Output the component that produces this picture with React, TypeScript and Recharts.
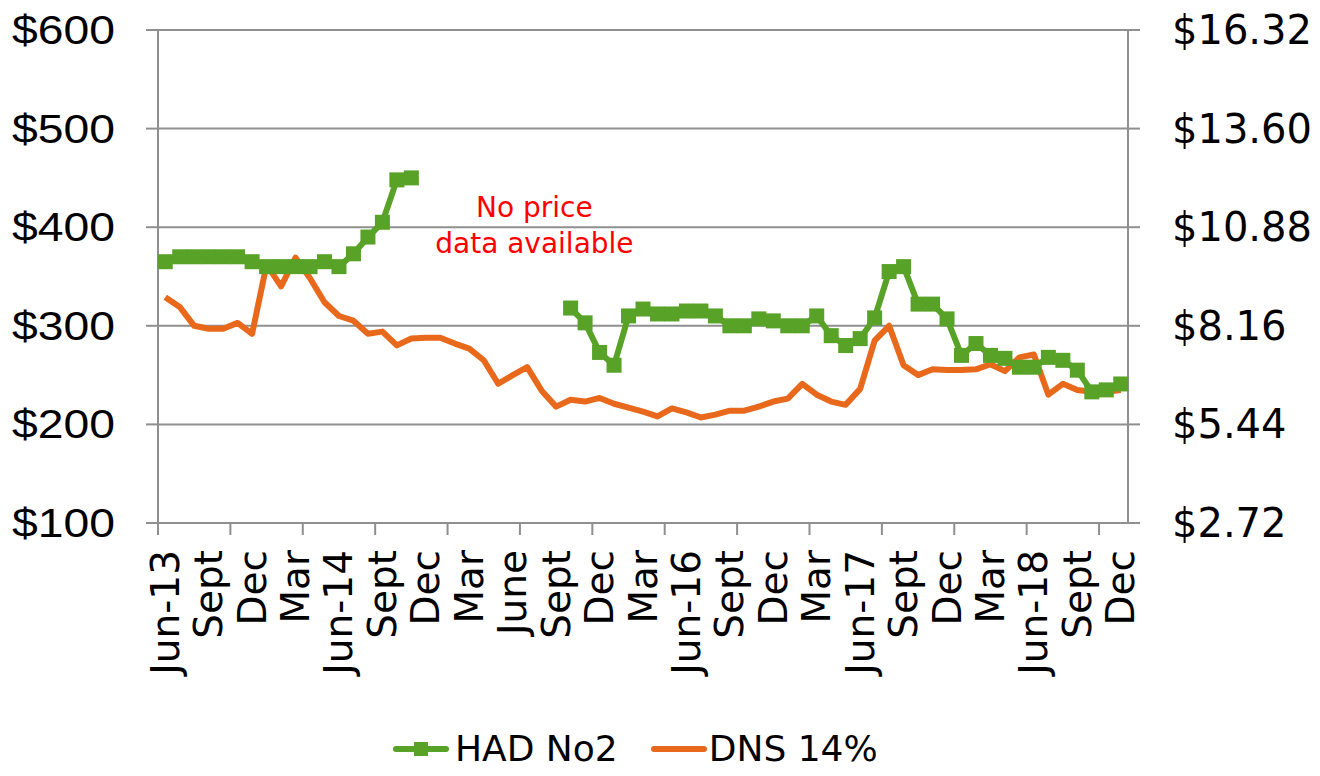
import {
  LineChart,
  Line,
  XAxis,
  YAxis,
  CartesianGrid,
  Legend,
  ReferenceDot,
} from "recharts";

const MONTHS = [
  "Jun-13", "Jul-13", "Aug-13", "Sep-13", "Oct-13", "Nov-13", "Dec-13",
  "Jan-14", "Feb-14", "Mar-14", "Apr-14", "May-14", "Jun-14", "Jul-14",
  "Aug-14", "Sep-14", "Oct-14", "Nov-14", "Dec-14", "Jan-15", "Feb-15",
  "Mar-15", "Apr-15", "May-15", "Jun-15", "Jul-15", "Aug-15", "Sep-15",
  "Oct-15", "Nov-15", "Dec-15", "Jan-16", "Feb-16", "Mar-16", "Apr-16",
  "May-16", "Jun-16", "Jul-16", "Aug-16", "Sep-16", "Oct-16", "Nov-16",
  "Dec-16", "Jan-17", "Feb-17", "Mar-17", "Apr-17", "May-17", "Jun-17",
  "Jul-17", "Aug-17", "Sep-17", "Oct-17", "Nov-17", "Dec-17", "Jan-18",
  "Feb-18", "Mar-18", "Apr-18", "May-18", "Jun-18", "Jul-18", "Aug-18",
  "Sep-18", "Oct-18", "Nov-18", "Dec-18",
];

// one label every third month
const TICK_LABELS = [
  "Jun-13", "Sept", "Dec", "Mar", "Jun-14", "Sept", "Dec", "Mar",
  "June", "Sept", "Dec", "Mar", "Jun-16", "Sept", "Dec", "Mar",
  "Jun-17", "Sept", "Dec", "Mar", "Jun-18", "Sept", "Dec",
];

// HAD No2, $/tonne (left axis), gap = no price data
const HAD_NO2 = [
  365, 370, 370, 370, 370, 370, 365, 360, 360, 360, 360, 365, 360, 373,
  390, 405, 448, 450,
  null, null, null, null, null, null, null, null, null, null,
  318, 303, 273, 260, 310, 317, 312, 312, 315, 315, 310, 300, 300, 307,
  305, 300, 300, 310, 290, 280, 287, 308, 355, 360, 322, 322, 307, 270,
  282, 270, 267, 258, 258, 268, 265, 255, 233, 235, 241,
];

// DNS 14%, $/bu (right axis)
const DNS_14 = [
  8.95, 8.68, 8.16, 8.08, 8.08, 8.24, 7.94, 9.85, 9.25, 10.04, 9.47, 8.81,
  8.43, 8.3, 7.94, 8.0, 7.62, 7.81, 7.83, 7.83, 7.67, 7.53, 7.21, 6.56,
  6.8, 7.02, 6.37, 5.93, 6.12, 6.07, 6.17, 6.01, 5.9, 5.79, 5.66, 5.88,
  5.77, 5.63, 5.71, 5.82, 5.82, 5.93, 6.07, 6.15, 6.56, 6.26, 6.07, 5.98,
  6.42, 7.75, 8.16, 7.07, 6.8, 6.96, 6.94, 6.94, 6.96, 7.1, 6.91, 7.29,
  7.37, 6.26, 6.56, 6.39, 6.34, 6.34, 6.39,
];

const LEFT_TICKS = [100, 200, 300, 400, 500, 600];
const RIGHT_TICKS = [2.72, 5.44, 8.16, 10.88, 13.6, 16.32];

const GREEN = "#57a227";
const ORANGE = "#e9691c";
const AXIS = "#8f8f8f";
const SANS = "DejaVu Sans";

const data = MONTHS.map((m, i) => ({
  idx: i,
  month: m,
  had: HAD_NO2[i],
  dns: DNS_14[i],
}));

const labelTicks = TICK_LABELS.map((_, i) => i * 3);
const markTicks = MONTHS.map((_, i) => i - 0.5).filter((v, i) => i % 5 === 0);
const xTicks = [...markTicks, ...labelTicks].sort((a, b) => a - b);

const X_TICK_SIZE = 12;
const X_TICK_MARGIN = 15;

function XTick({ x, y, payload }: any) {
  const v = payload.value;
  if (!Number.isInteger(v)) {
    const base = y - X_TICK_SIZE - X_TICK_MARGIN;
    return (
      <line x1={x} x2={x} y1={base} y2={base + X_TICK_SIZE} stroke={AXIS} strokeWidth={2} />
    );
  }
  return (
    <text
      transform={`translate(${x},${y}) rotate(-90)`}
      textAnchor="end"
      dominantBaseline="central"
      fontFamily={SANS}
      fontSize={39}
      fill="#000"
    >
      {TICK_LABELS[v / 3]}
    </text>
  );
}

function LeftTick({ x, y, payload }: any) {
  return (
    <text
      x={x}
      y={y}
      textAnchor="end"
      dominantBaseline="central"
      fontFamily="Liberation Sans"
      fontSize={40}
      textLength={103}
      lengthAdjust="spacingAndGlyphs"
      fill="#000"
    >
      ${payload.value}
    </text>
  );
}

function RightTick({ x, y, payload }: any) {
  return (
    <text
      x={x}
      y={y}
      textAnchor="start"
      dominantBaseline="central"
      fontFamily={SANS}
      fontSize={40}
      fill="#000"
    >
      ${Number(payload.value).toFixed(2)}
    </text>
  );
}

function SquareDot(props: any) {
  const { cx, cy, index } = props;
  if (cx == null || cy == null || props.value == null) return <g key={index} />;
  return <rect key={index} x={cx - 7.5} y={cy - 7.5} width={15} height={15} fill={GREEN} />;
}

function NoDataNote(props: any) {
  const { cx, cy } = props;
  return (
    <g>
      <text x={cx} y={cy - 10} textAnchor="middle" fontFamily={SANS} fontSize={28} fill="#ff0000">
        No price
      </text>
      <text x={cx} y={cy + 26} textAnchor="middle" fontFamily={SANS} fontSize={28} fill="#ff0000">
        data available
      </text>
    </g>
  );
}

function ChartLegend() {
  const text = { fontFamily: SANS, fontSize: 36, color: "#000", lineHeight: "44px" };
  return (
    <div
      style={{
        display: "flex",
        alignItems: "center",
        height: 60,
        paddingTop: 16,
        paddingLeft: 393,
        boxSizing: "border-box",
      }}
    >
      <svg width={56} height={20}>
        <line x1={3} x2={53} y1={10} y2={10} stroke={GREEN} strokeWidth={6} strokeLinecap="round" />
        <rect x={21} y={3} width={14} height={14} fill={GREEN} />
      </svg>
      <span style={{ ...text, marginLeft: 6 }}>HAD No2</span>
      <svg width={56} height={20} style={{ marginLeft: 33 }}>
        <line x1={3} x2={53} y1={10} y2={10} stroke={ORANGE} strokeWidth={6} strokeLinecap="round" />
      </svg>
      <span style={{ ...text, marginLeft: 2 }}>DNS 14%</span>
    </div>
  );
}

export default function App() {
  return (
    <div style={{ position: "absolute", left: 0, top: 0, width: 1320, height: 776, background: "#fff" }}>
      <LineChart
        width={1320}
        height={776}
        data={data}
        margin={{ top: 30, right: 0, left: 0, bottom: 5 }}
      >
        <CartesianGrid yAxisId="left" vertical={false} stroke={AXIS} strokeWidth={2} />
        <XAxis
          dataKey="idx"
          type="number"
          domain={[-0.5, 66.5]}
          ticks={xTicks}
          interval={0}
          height={188}
          tickLine={false}
          tickSize={X_TICK_SIZE}
          tickMargin={X_TICK_MARGIN}
          tick={<XTick />}
          axisLine={{ stroke: AXIS, strokeWidth: 2 }}
        />
        <YAxis
          yAxisId="left"
          domain={[100, 600]}
          ticks={LEFT_TICKS}
          width={158}
          tickSize={12}
          tickMargin={31}
          tick={<LeftTick />}
          tickLine={{ stroke: AXIS, strokeWidth: 2 }}
          axisLine={{ stroke: AXIS, strokeWidth: 2 }}
        />
        <YAxis
          yAxisId="right"
          orientation="right"
          domain={[2.72, 16.32]}
          ticks={RIGHT_TICKS}
          width={192}
          tickSize={12}
          tickMargin={32}
          tick={<RightTick />}
          tickLine={{ stroke: AXIS, strokeWidth: 2 }}
          axisLine={{ stroke: AXIS, strokeWidth: 2 }}
        />
        <Legend verticalAlign="bottom" height={60} content={<ChartLegend />} />
        <Line
          yAxisId="left"
          dataKey="had"
          name="HAD No2"
          stroke={GREEN}
          strokeWidth={6}
          dot={<SquareDot />}
          activeDot={false}
          isAnimationActive={false}
        />
        <Line
          yAxisId="right"
          dataKey="dns"
          name="DNS 14%"
          stroke={ORANGE}
          strokeWidth={6}
          strokeLinejoin="round"
          dot={false}
          activeDot={false}
          isAnimationActive={false}
        />
        <ReferenceDot yAxisId="left" x={25.5} y={400} r={1} shape={<NoDataNote />} />
      </LineChart>
    </div>
  );
}
